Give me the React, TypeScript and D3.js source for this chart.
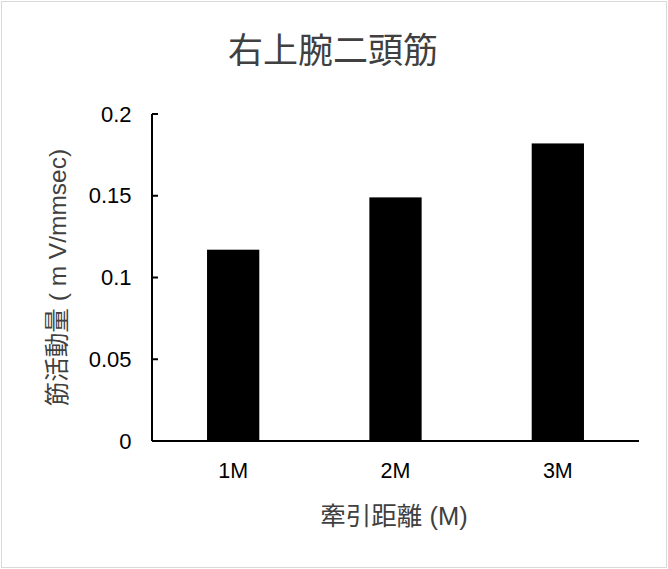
import React from 'react';
import * as d3 from 'd3';

const categories = ['1M', '2M', '3M'];
const values = [0.117, 0.149, 0.182];
const yTicks = [0, 0.05, 0.1, 0.15, 0.2];

const title = '右上腕二頭筋';
const xTitle = '牽引距離 (M)';
const yTitle = '筋活動量 ( m V/mmsec)';

const width = 668;
const height = 569;
const margin = { l: 152, r: 29, t: 114, b: 128 };

const latin = '"Liberation Sans", Arial, "Noto Sans CJK JP", sans-serif';

export default function App() {
  const x = d3
    .scaleBand<string>()
    .domain(categories)
    .range([margin.l, width - margin.r])
    .paddingInner(0.678)
    .paddingOuter(0.339);

  const y = d3
    .scaleLinear()
    .domain([0, 0.2])
    .range([height - margin.b, margin.t]);

  const fmt = (v: number) => (v === 0 ? '0' : String(+v.toFixed(2)));
  const x0 = margin.l;
  const yBase = y(0);

  return (
    <svg
      width={width}
      height={height}
      style={{ position: 'absolute', left: 0, top: 0, background: '#fff' }}
    >
      <rect x={1.5} y={1.5} width={width - 3} height={height - 3} fill="#fff" stroke="#d9d9d9" />

      <text
        x={333}
        y={63}
        textAnchor="middle"
        fontSize={35}
        fill="#404040"
        fontFamily={latin}
      >
        {title}
      </text>

      {/* bars */}
      {values.map((v, i) => (
        <rect
          key={categories[i]}
          x={x(categories[i])}
          y={y(v)}
          width={x.bandwidth()}
          height={yBase - y(v)}
          fill="#000"
        />
      ))}

      {/* y axis */}
      <line x1={x0} x2={x0} y1={y(0.2)} y2={yBase} stroke="#000" strokeWidth={2} />
      {yTicks.map((t) => (
        <g key={t}>
          <line x1={x0} x2={x0 + 6} y1={y(t)} y2={y(t)} stroke="#000" strokeWidth={2} />
          <text
            x={131.5}
            y={y(t)}
            dy="0.35em"
            textAnchor="end"
            fontSize={22}
            fill="#000"
            fontFamily={latin}
          >
            {fmt(t)}
          </text>
        </g>
      ))}

      {/* x axis */}
      <line x1={x0} x2={width - margin.r} y1={yBase} y2={yBase} stroke="#000" strokeWidth={2} />
      {categories.map((c) => (
        <text
          key={c}
          x={(x(c) as number) + x.bandwidth() / 2}
          y={478}
          textAnchor="middle"
          fontSize={21.5}
          fill="#000"
          fontFamily={latin}
        >
          {c}
        </text>
      ))}

      <text
        x={394}
        y={525}
        textAnchor="middle"
        fontSize={25.5}
        fill="#404040"
        fontFamily={latin}
      >
        {xTitle}
      </text>

      <text
        transform={`translate(57,${(y(0) + y(0.2)) / 2}) rotate(-90)`}
        textAnchor="middle"
        dominantBaseline="central"
        fontSize={24.5}
        fill="#404040"
        fontFamily={latin}
      >
        {yTitle}
      </text>
    </svg>
  );
}
